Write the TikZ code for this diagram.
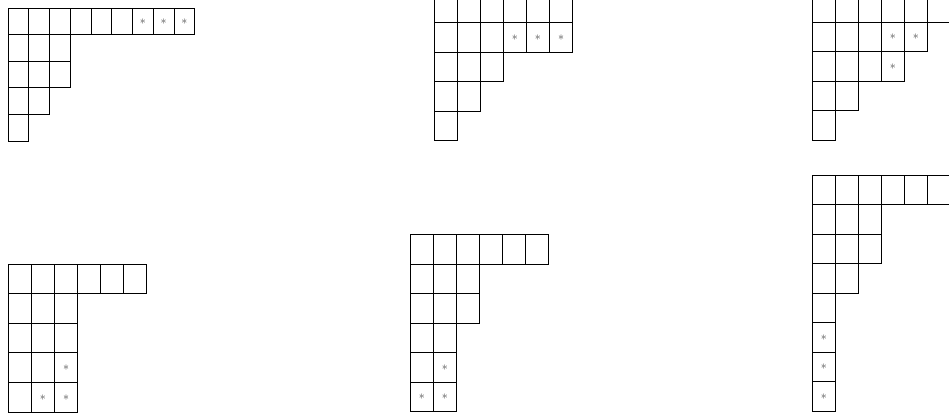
\documentclass[tikz,border=0pt]{standalone}
\tikzset{
  cellbox/.style={draw=black, line width=0.9pt},
  starlbl/.style={font=\large, text=black!70, inner sep=0pt}
}
% #1 x0, #2 y0, #3 cell width, #4 cell height, #5 row lengths, #6 star cells row/col
\newcommand\ydiagram[6]{%
  \foreach \len [count=\r] in {#5} {%
    \foreach \c in {1,...,\len} {%
      \draw[cellbox] ({#1+(\c-1)*#3},{#2+(\r-1)*#4}) rectangle ++(#3,#4);
    }%
  }%
  \foreach \r/\c in {#6} {%
    \node[starlbl] at ({#1+(\c-0.5)*#3},{#2+(\r-0.5)*#4}) {$*$};
  }%
}
\begin{document}
\begin{tikzpicture}[x=1pt,y=-1pt]
  \useasboundingbox (0,0) rectangle (949,416);
  \clip (0,0) rectangle (949,416);
  \ydiagram{8}{8}{20.75}{26.6}{9,3,3,2,1}{1/7,1/8,1/9}
  \ydiagram{434}{-6.8}{23.1}{29.5}{6,6,3,2,1}{2/4,2/5,2/6}
  \ydiagram{812.3}{-7.2}{23}{29.5}{7,5,4,2,1}{2/4,2/5,3/4}
  \ydiagram{8.3}{264}{23.1}{29.6}{6,3,3,3,3}{4/3,5/2,5/3}
  \ydiagram{410.3}{234.7}{23.1}{29.5}{6,3,3,2,2,2}{5/2,6/1,6/2}
  \ydiagram{812.3}{175}{23}{29.5}{7,3,3,2,1,1,1,1}{6/1,7/1,8/1}
\end{tikzpicture}
\end{document}
